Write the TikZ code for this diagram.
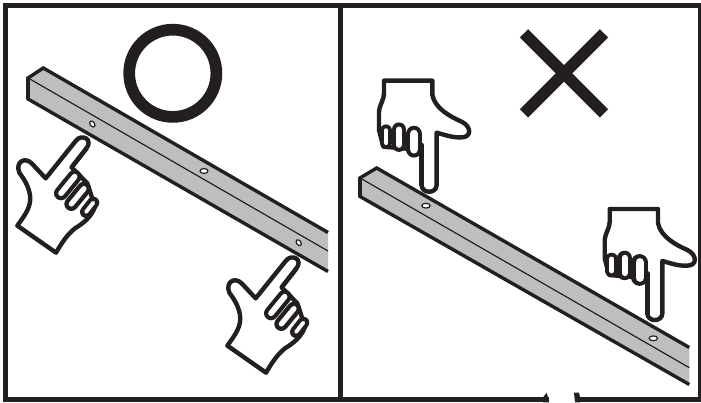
\documentclass[tikz,border=0pt]{standalone}
\definecolor{ink}{HTML}{231F20}
\definecolor{barg}{HTML}{BCBEC0}
\tikzset{
  barface/.style={fill=barg,draw=none},
  barline/.style={draw=ink,line width=3.4pt,line join=miter,line cap=butt},
  barend/.style={draw=ink,line width=4.4pt,line cap=butt},
  barthin/.style={draw=ink,line width=1.2pt},
  hole/.style={fill=white,draw=ink,line width=1.2pt},
  handline/.style={draw=ink,fill=white,line width=4.4pt,line join=round},
  sausblack/.style={draw=ink,line cap=round},
  sauswhite/.style={draw=white,line cap=round},
  frameline/.style={draw=ink,line width=4.7pt},
  symb/.style={draw=ink,line width=11.7pt}
}
\newcommand{\sausage}[6]{%
  \draw[sausblack,line width=#5pt] (#1,#2) -- (#3,#4);
  \draw[sauswhite,line width=#6pt] (#1,#2) -- (#3,#4);}
\newcommand{\uphand}[2]{%
\begin{scope}[shift={(#1,#2)},x=0.3333pt,y=-0.3333pt]
  \draw[handline] (137,385) -- (228,272) .. controls (245,250) and (282,268) .. (258,297)
    -- (215,352) -- (262,400) -- (285,470)
    .. controls (275,500) and (250,520) .. (225,535)
    .. controls (200,555) and (185,580) .. (168,608) -- (52,527)
    .. controls (75,495) and (95,470) .. (90,435)
    .. controls (85,405) and (70,385) .. (58,368)
    .. controls (45,335) and (75,320) .. (95,340) -- cycle;
  \sausage{280}{458}{258}{486}{12}{3.8}
  \sausage{252}{416}{214}{462}{14}{5.2}
  \sausage{224}{380}{183}{430}{14}{5.6}
  \draw[draw=ink,line width=4.4pt,line cap=round] (258,297) -- (215,352);
\end{scope}}
\newcommand{\downhand}[2]{%
\begin{scope}[shift={(#1,#2)},x=0.3333pt,y=-0.3333pt]
  \draw[handline] (102,32) -- (247,32) -- (247,75)
    .. controls (255,115) and (300,140) .. (335,155)
    .. controls (365,170) and (365,202) .. (335,202)
    .. controls (310,204) and (285,195) .. (260,188)
    -- (260,345) .. controls (260,372) and (215,372) .. (215,345)
    -- (215,240) -- (100,230) -- (87,180)
    -- (87,125) .. controls (90,100) and (102,90) .. (102,70) -- cycle;
  \sausage{108}{182}{108}{218}{12.5}{4.8}
  \sausage{147}{179}{147}{224}{14.5}{6.4}
  \sausage{192}{192}{192}{238}{16.5}{8.4}
  \draw[draw=ink,line width=4.4pt,line cap=round] (215,225) -- (215,345);
\end{scope}}
\begin{document}
\begin{tikzpicture}[x=1pt,y=-1pt]
\useasboundingbox (0,0) rectangle (701,403);
\fill[white] (0,0) rectangle (701,403);
% left bar
\fill[barface] (28,78) -- (43.3,68) -- (328,232) -- (328,271) -- (28,99) -- cycle;
\draw[barline] (328,232.5) -- (43.3,68) -- (28,78) -- (28,99) -- (328,271.5);
\draw[barend] (28,77) -- (28,99);
\draw[barthin] (29,78.5) -- (328,251);
\draw[hole,rotate around={35:(92.3,124)}] (92.3,124) ellipse (2.2pt and 3.3pt);
\draw[hole] (204,171) ellipse (4pt and 2.4pt);
\draw[hole,rotate around={35:(298.7,242.7)}] (298.7,242.7) ellipse (2.2pt and 3.3pt);
% right bar
\fill[barface] (360,178) -- (376.7,168) -- (689.3,347) -- (689.3,384) -- (360,196) -- cycle;
\draw[barline] (689.3,347.5) -- (376.7,168) -- (360,178) -- (360,196.5) -- (689.3,384.5);
\draw[barend] (360,177) -- (360,197);
\draw[barthin] (361,178.5) -- (689.3,367.7);
\draw[hole] (426,205.7) ellipse (4.2pt and 2.4pt);
\draw[hole] (653.3,338.3) ellipse (4.2pt and 2.4pt);
% hands
\uphand{0}{50}
\uphand{210}{170}
\downhand{350}{70}
\downhand{575.7}{198.3}
% symbols
\draw[symb] (172.8,73.3) circle (43.6pt);
\draw[symb] (524,33.3) -- (604,113.3) (604,33.3) -- (524,113.3);
% frame
\draw[frameline] (3.3,5.7) -- (701,5.7);
\draw[frameline] (5.7,3.3) -- (5.7,402);
\draw[frameline] (340.8,3.3) -- (340.8,402);
\draw[frameline] (700.5,3.3) -- (700.5,402);
\draw[frameline,line width=5.3pt] (3.3,399.6) -- (549,399.6);
\draw[frameline,line width=5.3pt] (575,399.6) -- (701,399.6);
\fill[ink] (543.3,397) -- (546.7,392.7) -- (549.3,402.3) -- (543.3,402.3) -- cycle;
\fill[ink] (574,392.7) -- (579,392.7) -- (580,397) -- (580,402.3) -- (575,402.3) -- cycle;
\end{tikzpicture}
\end{document}
